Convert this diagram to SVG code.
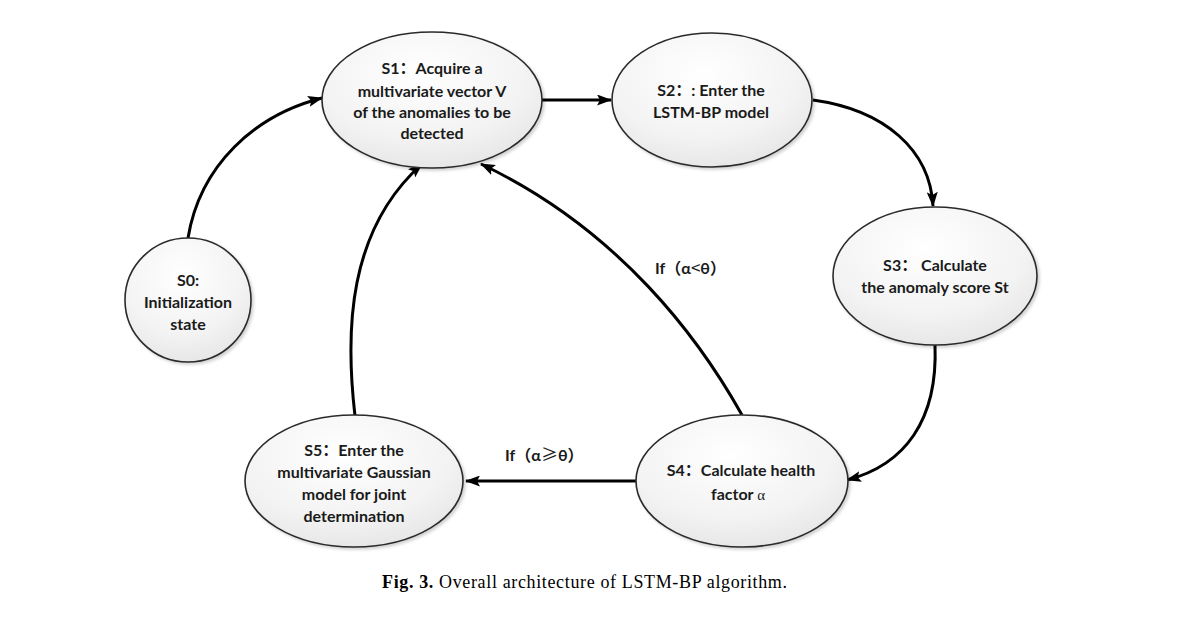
<svg xmlns="http://www.w3.org/2000/svg" width="1178" height="628" viewBox="0 0 1178 628">
<style>
.node ellipse{fill:url(#g);stroke:#2b2b2b;stroke-width:1.6;filter:url(#sh)}
.t{font-family:Lato,"Liberation Sans","Noto Sans CJK SC",sans-serif;font-weight:bold;font-size:16px;fill:#1a1a1a;text-anchor:middle}
.c path{fill:none;stroke:#000;stroke-width:3;marker-end:url(#ah)}
.lbl{font-family:Lato,"Liberation Sans","Noto Sans CJK SC",sans-serif;font-weight:bold;font-size:16px;fill:#1a1a1a}
.sym{font-family:"Noto Sans CJK SC",sans-serif;font-weight:normal;font-size:17px}
.cap{font-family:"Liberation Serif",serif;font-size:18px;fill:#000}
</style>
<defs>
<radialGradient id="g" cx="0.45" cy="0.3" r="0.8">
<stop offset="0" stop-color="#ffffff"/>
<stop offset="0.6" stop-color="#f3f3f3"/>
<stop offset="1" stop-color="#e2e2e2"/>
</radialGradient>
<filter id="sh" x="-10%" y="-10%" width="125%" height="125%">
<feDropShadow dx="2" dy="2" stdDeviation="1.5" flood-color="#000" flood-opacity="0.18"/>
</filter>
<marker id="ah" viewBox="0 0 15 11" refX="14" refY="5.5" markerWidth="15" markerHeight="11" markerUnits="userSpaceOnUse" orient="auto">
<path d="M0,0 L15,5.5 L0,11 L3,5.5 Z" fill="#000"/>
</marker>
</defs>
<rect width="1178" height="628" fill="#fff"/>
<g id="connectors" class="c">
<path d="M188,238 C200,165 255,115 322,98"/>
<path d="M542,100 L611,100"/>
<path d="M813,100 C885,110 930,150 933,206"/>
<path d="M935,345 C938,420 905,465 847,480"/>
<path d="M742,415 C700,340 620,230 481,164"/>
<path d="M355,416 C345,330 348,230 422,164"/>
<path d="M637,481 L466,481"/>
</g>
<g id="S1" class="node">
<ellipse cx="432" cy="100" rx="110" ry="68"/>
<text class="t" x="432" y="74">S1：Acquire a</text>
<text class="t" x="432" y="97">multivariate vector V</text>
<text class="t" x="432" y="118">of the anomalies to be</text>
<text class="t" x="432" y="139">detected</text>
</g>
<g id="S2" class="node">
<ellipse cx="712" cy="100" rx="100" ry="67"/>
<text class="t" x="711" y="96">S2：: Enter the</text>
<text class="t" x="711" y="118">LSTM-BP model</text>
</g>
<g id="S3" class="node">
<ellipse cx="935" cy="276" rx="102" ry="69"/>
<text class="t" x="935" y="271">S3：  Calculate</text>
<text class="t" x="935" y="293">the anomaly score St</text>
</g>
<g id="S4" class="node">
<ellipse cx="742" cy="481" rx="106" ry="66"/>
<text class="t" x="741" y="476">S4：Calculate health</text>
<text class="t" x="738" y="500">factor <tspan style="font-family:'Liberation Serif',serif;font-weight:normal;font-size:15px">α</tspan></text>
</g>
<g id="S5" class="node">
<ellipse cx="354" cy="481" rx="109" ry="66"/>
<text class="t" x="354" y="456">S5：Enter the</text>
<text class="t" x="354" y="478">multivariate Gaussian</text>
<text class="t" x="354" y="500">model for joint</text>
<text class="t" x="354" y="522">determination</text>
</g>
<g id="S0" class="node">
<ellipse cx="188" cy="300" rx="63" ry="62"/>
<text class="t" x="188" y="286">S0:</text>
<text class="t" x="188" y="308">Initialization</text>
<text class="t" x="188" y="330">state</text>
</g>
<g id="labels">
<text class="lbl" x="655" y="274">If（α<tspan class="sym">&lt;</tspan>θ）</text>
<text class="lbl" x="505" y="461">If（α<tspan class="sym">≥</tspan>θ）</text>
</g>
<text class="cap" x="382" y="588" textLength="405" lengthAdjust="spacing"><tspan font-weight="bold">Fig. 3.</tspan>  Overall architecture of LSTM-BP algorithm.</text>
</svg>
